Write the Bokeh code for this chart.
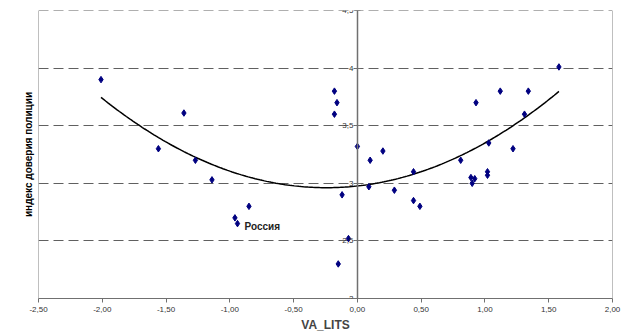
import numpy as np
from bokeh.plotting import figure
from bokeh.models import Span, Label, Title, Range1d, FixedTicker
from bokeh.embed import file_html
from bokeh.resources import INLINE

va_lits = [-2.01, -1.56, -1.36, -1.27, -1.14, -0.96, -0.94, -0.85,
           -0.18, -0.16, -0.18, -0.15, -0.12, -0.07, 0.00, 0.09, 0.10, 0.20,
           0.29, 0.44, 0.44, 0.49, 0.81, 0.89, 0.90, 0.92, 0.93, 1.02, 1.02,
           1.03, 1.12, 1.22, 1.31, 1.34, 1.58]
trust = [3.90, 3.30, 3.61, 3.20, 3.03, 2.70, 2.65, 2.80,
         3.80, 3.70, 3.60, 2.30, 2.90, 2.52, 3.32, 2.97, 3.20, 3.28,
         2.94, 3.10, 2.85, 2.80, 3.20, 3.05, 3.00, 3.04, 3.70, 3.10, 3.07,
         3.35, 3.80, 3.30, 3.60, 3.80, 4.01]
x_ticks = [-2.5, -2.0, -1.5, -1.0, -0.5, 0.0, 0.5, 1.0, 1.5, 2.0]
x_tick_labels = ["-2,50", "-2,00", "-1,50", "-1,00", "-0,50", "0,00", "0,50", "1,00", "1,50", "2,00"]
y_ticks = [2.0, 2.5, 3.0, 3.5, 4.0, 4.5]
y_tick_labels = ["2", "2,5", "3", "3,5", "4", "4,5"]
label_text = "Россия"
label_index = 6

FONT = "Liberation Sans"

p = figure(width=624, height=334, output_backend="svg", toolbar_location=None,
           x_range=Range1d(-2.5, 2.0), y_range=Range1d(2.0, 4.5),
           min_border_left=38, min_border_right=12, min_border_top=10, min_border_bottom=4)
p.outline_line_color = None
p.background_fill_color = "white"
p.border_fill_color = "white"

# grid
p.xgrid.visible = False
p.ygrid.ticker = FixedTicker(ticks=y_ticks)
p.ygrid.grid_line_color = "#606060"
p.ygrid.grid_line_dash = "10 5"
p.ygrid.grid_line_width = 1

# x axis
xa = p.xaxis[0]
xa.ticker = FixedTicker(ticks=x_ticks)
xa.major_label_overrides = {t: s for t, s in zip(x_ticks, x_tick_labels)}
xa.axis_line_color = "#707070"
xa.major_tick_line_color = "#707070"
xa.major_tick_in = 0
xa.major_tick_out = 4
xa.minor_tick_line_color = None
xa.major_label_text_font = FONT
xa.major_label_text_font_size = "8px"
xa.major_label_text_color = "#333333"
xa.major_label_standoff = 4
xa.axis_label = "VA_LITS"
xa.axis_label_text_font = FONT
xa.axis_label_text_font_style = "bold"
xa.axis_label_text_font_size = "12px"
xa.axis_label_standoff = 3

# y axis at x = 0
ya = p.yaxis[0]
ya.fixed_location = 0
ya.ticker = FixedTicker(ticks=y_ticks)
ya.major_label_overrides = {t: s for t, s in zip(y_ticks, y_tick_labels)}
ya.axis_line_color = "#707070"
ya.axis_line_width = 1.5
ya.major_tick_line_color = "#707070"
ya.major_tick_in = 3
ya.major_tick_out = 3
ya.minor_tick_line_color = None
ya.major_label_text_font = FONT
ya.major_label_text_font_size = "8px"
ya.major_label_text_color = "#333333"
ya.major_label_standoff = 1

ytitle = Title(text="индекс доверия полиции", align="center", text_font=FONT,
               text_font_style="bold", text_font_size="10px", text_color="black")
p.add_layout(ytitle, "left")

# frame borders
p.add_layout(Span(location=-2.5, dimension="height", line_color="#808080", line_width=1))
p.add_layout(Span(location=2.0, dimension="height", line_color="#808080", line_width=1))
p.add_layout(Span(location=4.5, dimension="width", line_color="#606060", line_width=1,
                  line_dash="10 5"))

# trend (quadratic least squares of the data)
coef = np.polyfit(va_lits, trust, 2)
xs = np.linspace(min(va_lits), max(va_lits), 200)
p.line(xs, np.polyval(coef, xs), line_color="black", line_width=1.5)

p.scatter(va_lits, trust, marker="diamond", size=6.5, fill_color="#000080", line_color="#000080")

p.add_layout(Label(x=va_lits[label_index], y=trust[label_index], text=label_text,
                   x_offset=7, y_offset=-8, text_font=FONT, text_font_style="bold",
                   text_font_size="10px", text_color="#222222"))

open("out.html", "w").write(file_html(p, INLINE))
